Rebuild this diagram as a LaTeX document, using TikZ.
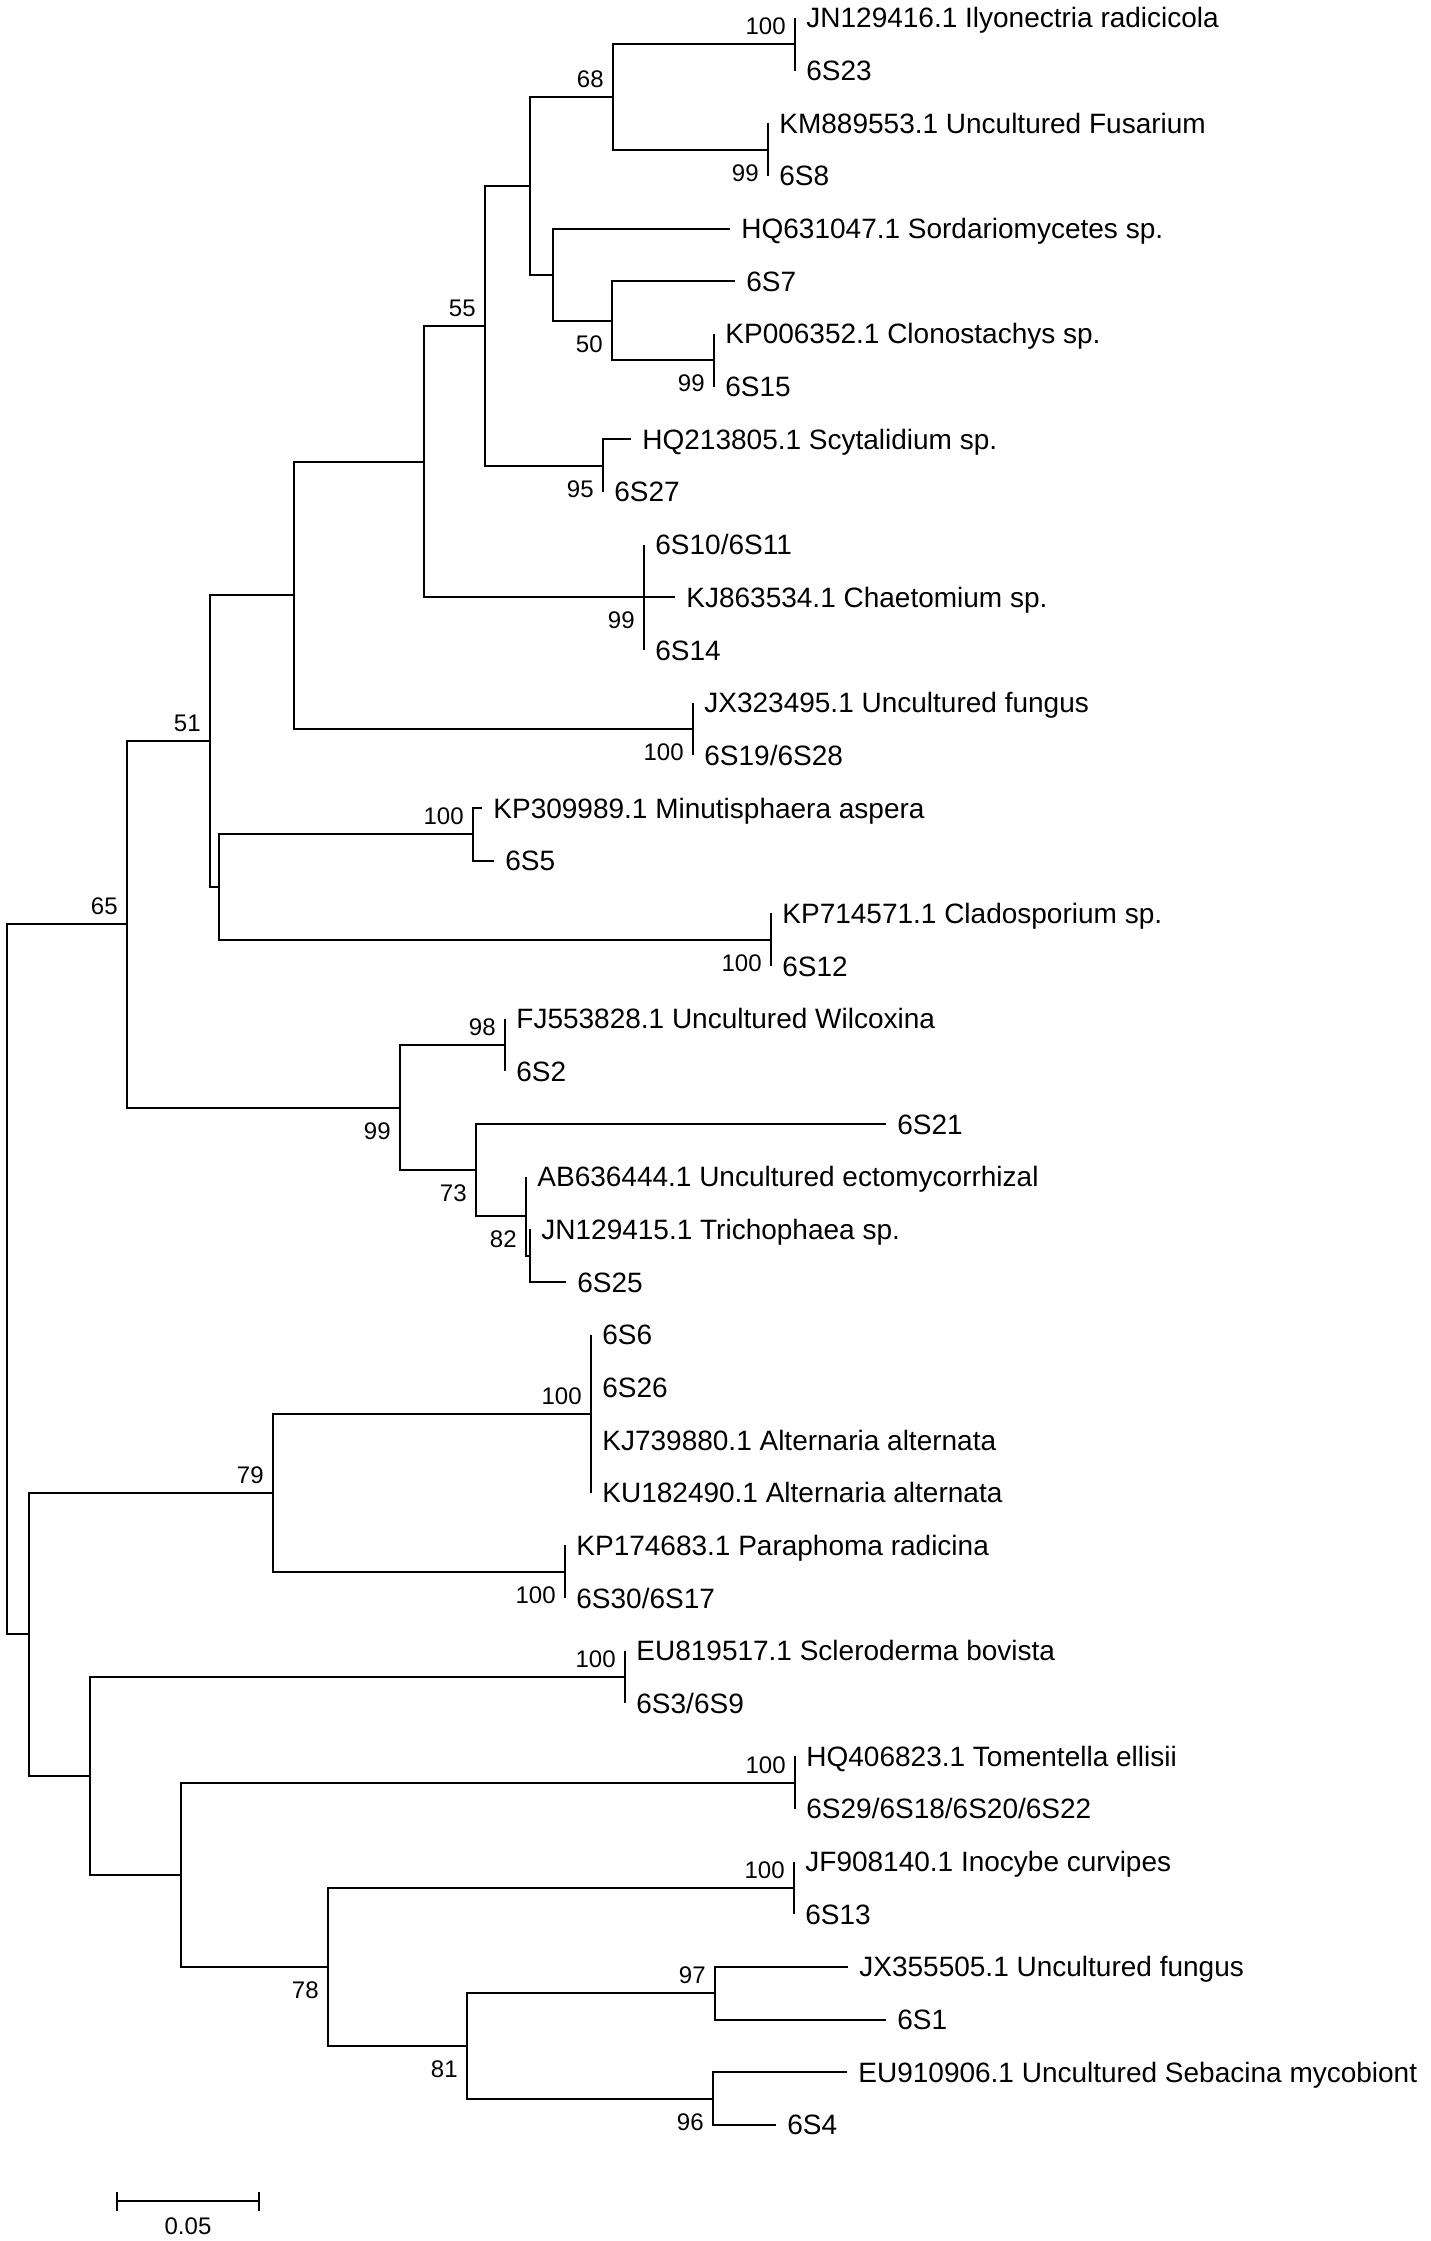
\documentclass[tikz,border=0pt]{standalone}
\usepackage{fontspec}
\setmainfont{Liberation Sans}
\begin{document}
\begin{tikzpicture}[x=0.5pt,y=-0.5pt,
  br/.style={line width=1pt},
  leaf/.style={anchor=base west,inner sep=0pt,xshift=5.5pt,yshift=-5pt,font=\fontsize{14pt}{16pt}\selectfont},
  bsa/.style={anchor=base east,inner sep=0pt,xshift=-4.5pt,yshift=4.75pt,font=\fontsize{12pt}{14pt}\selectfont},
  bsb/.style={anchor=base east,inner sep=0pt,xshift=-4.5pt,yshift=-15.75pt,font=\fontsize{12pt}{14pt}\selectfont}]
\useasboundingbox (0,0) rectangle (1430,2241);
% internal nodes
\coordinate (R) at (7,1279.4);
\coordinate (A) at (127,924.4);
\coordinate (C) at (210,741.2);
\coordinate (D) at (400,1107.6);
\coordinate (E) at (294,595.3);
\coordinate (F) at (219,887.1);
\coordinate (G) at (424,461.6);
\coordinate (NJX) at (693,729.1);
\coordinate (H) at (485,325.8);
\coordinate (NCh) at (644,597.4);
\coordinate (I) at (530,185.9);
\coordinate (N95) at (603,465.7);
\coordinate (N68) at (613,97.0);
\coordinate (J) at (553,274.8);
\coordinate (N100a) at (795,44.4);
\coordinate (N99a) at (768,149.7);
\coordinate (N50) at (612,320.9);
\coordinate (N99b) at (714,360.4);
\coordinate (N100m) at (473,834.4);
\coordinate (N100c) at (771,939.8);
\coordinate (N98) at (505,1045.1);
\coordinate (N73) at (476,1170.2);
\coordinate (N82) at (526,1216.2);
\coordinate (K) at (530,1255.8);
\coordinate (B) at (29,1634.4);
\coordinate (N79) at (273,1492.8);
\coordinate (L) at (90,1775.9);
\coordinate (NAlt) at (591,1413.8);
\coordinate (NP) at (565,1571.8);
\coordinate (NS) at (625,1677.1);
\coordinate (M) at (181,1874.7);
\coordinate (NT) at (795,1782.5);
\coordinate (N78) at (328,1966.9);
\coordinate (NI) at (794,1887.8);
\coordinate (N81) at (467,2045.9);
\coordinate (N97) at (715,1993.2);
\coordinate (N96) at (713,2098.5);
% leaf tips
\coordinate (l0) at (795,18.0);
\coordinate (l1) at (795,70.7);
\coordinate (l2) at (768,123.3);
\coordinate (l3) at (768,176.0);
\coordinate (l4) at (730,228.7);
\coordinate (l5) at (735,281.4);
\coordinate (l6) at (714,334.0);
\coordinate (l7) at (714,386.7);
\coordinate (l8) at (631,439.4);
\coordinate (l9) at (603,492.0);
\coordinate (l10) at (644,544.7);
\coordinate (l11) at (675,597.4);
\coordinate (l12) at (644,650.0);
\coordinate (l13) at (693,702.7);
\coordinate (l14) at (693,755.4);
\coordinate (l15) at (482,808.1);
\coordinate (l16) at (494,860.7);
\coordinate (l17) at (771,913.4);
\coordinate (l18) at (771,966.1);
\coordinate (l19) at (505,1018.7);
\coordinate (l20) at (505,1071.4);
\coordinate (l21) at (886,1124.1);
\coordinate (l22) at (526,1176.7);
\coordinate (l23) at (530,1229.4);
\coordinate (l24) at (566,1282.1);
\coordinate (l25) at (591,1334.8);
\coordinate (l26) at (591,1387.4);
\coordinate (l27) at (591,1440.1);
\coordinate (l28) at (591,1492.8);
\coordinate (l29) at (565,1545.4);
\coordinate (l30) at (565,1598.1);
\coordinate (l31) at (625,1650.8);
\coordinate (l32) at (625,1703.4);
\coordinate (l33) at (795,1756.1);
\coordinate (l34) at (795,1808.8);
\coordinate (l35) at (794,1861.5);
\coordinate (l36) at (794,1914.1);
\coordinate (l37) at (848,1966.8);
\coordinate (l38) at (886,2019.5);
\coordinate (l39) at (847,2072.1);
\coordinate (l40) at (776,2124.8);
% branches
\draw[br] (R) |- (A); \draw[br] (R) |- (B);
\draw[br] (A) |- (C); \draw[br] (A) |- (D);
\draw[br] (C) |- (E); \draw[br] (C) |- (F);
\draw[br] (E) |- (G); \draw[br] (E) |- (NJX);
\draw[br] (G) |- (H); \draw[br] (G) |- (NCh);
\draw[br] (H) |- (I); \draw[br] (H) |- (N95);
\draw[br] (I) |- (N68); \draw[br] (I) |- (J);
\draw[br] (N68) |- (N100a); \draw[br] (N68) |- (N99a);
\draw[br] (N100a) |- (l0); \draw[br] (N100a) |- (l1);
\draw[br] (N99a) |- (l2); \draw[br] (N99a) |- (l3);
\draw[br] (J) |- (l4); \draw[br] (J) |- (N50);
\draw[br] (N50) |- (l5); \draw[br] (N50) |- (N99b);
\draw[br] (N99b) |- (l6); \draw[br] (N99b) |- (l7);
\draw[br] (N95) |- (l8); \draw[br] (N95) |- (l9);
\draw[br] (NCh) |- (l10); \draw[br] (NCh) |- (l11); \draw[br] (NCh) |- (l12);
\draw[br] (NJX) |- (l13); \draw[br] (NJX) |- (l14);
\draw[br] (F) |- (N100m); \draw[br] (F) |- (N100c);
\draw[br] (N100m) |- (l15); \draw[br] (N100m) |- (l16);
\draw[br] (N100c) |- (l17); \draw[br] (N100c) |- (l18);
\draw[br] (D) |- (N98); \draw[br] (D) |- (N73);
\draw[br] (N98) |- (l19); \draw[br] (N98) |- (l20);
\draw[br] (N73) |- (l21); \draw[br] (N73) |- (N82);
\draw[br] (N82) |- (l22); \draw[br] (N82) |- (K);
\draw[br] (K) |- (l23); \draw[br] (K) |- (l24);
\draw[br] (B) |- (N79); \draw[br] (B) |- (L);
\draw[br] (N79) |- (NAlt); \draw[br] (N79) |- (NP);
\draw[br] (NAlt) |- (l25); \draw[br] (NAlt) |- (l28);
\draw[br] (NP) |- (l29); \draw[br] (NP) |- (l30);
\draw[br] (L) |- (NS); \draw[br] (L) |- (M);
\draw[br] (NS) |- (l31); \draw[br] (NS) |- (l32);
\draw[br] (M) |- (NT); \draw[br] (M) |- (N78);
\draw[br] (NT) |- (l33); \draw[br] (NT) |- (l34);
\draw[br] (N78) |- (NI); \draw[br] (N78) |- (N81);
\draw[br] (NI) |- (l35); \draw[br] (NI) |- (l36);
\draw[br] (N81) |- (N97); \draw[br] (N81) |- (N96);
\draw[br] (N97) |- (l37); \draw[br] (N97) |- (l38);
\draw[br] (N96) |- (l39); \draw[br] (N96) |- (l40);
% leaf labels
\node[leaf] (t0) at (l0) {JN129416.1 Ilyonectria radicicola};
\node[leaf] (t1) at (l1) {6S23};
\node[leaf] (t2) at (l2) {KM889553.1 Uncultured Fusarium};
\node[leaf] (t3) at (l3) {6S8};
\node[leaf] (t4) at (l4) {HQ631047.1 Sordariomycetes sp.};
\node[leaf] (t5) at (l5) {6S7};
\node[leaf] (t6) at (l6) {KP006352.1 Clonostachys sp.};
\node[leaf] (t7) at (l7) {6S15};
\node[leaf] (t8) at (l8) {HQ213805.1 Scytalidium sp.};
\node[leaf] (t9) at (l9) {6S27};
\node[leaf] (t10) at (l10) {6S10/6S11};
\node[leaf] (t11) at (l11) {KJ863534.1 Chaetomium sp.};
\node[leaf] (t12) at (l12) {6S14};
\node[leaf] (t13) at (l13) {JX323495.1 Uncultured fungus};
\node[leaf] (t14) at (l14) {6S19/6S28};
\node[leaf] (t15) at (l15) {KP309989.1 Minutisphaera aspera};
\node[leaf] (t16) at (l16) {6S5};
\node[leaf] (t17) at (l17) {KP714571.1 Cladosporium sp.};
\node[leaf] (t18) at (l18) {6S12};
\node[leaf] (t19) at (l19) {FJ553828.1 Uncultured Wilcoxina};
\node[leaf] (t20) at (l20) {6S2};
\node[leaf] (t21) at (l21) {6S21};
\node[leaf] (t22) at (l22) {AB636444.1 Uncultured ectomycorrhizal};
\node[leaf] (t23) at (l23) {JN129415.1 Trichophaea sp.};
\node[leaf] (t24) at (l24) {6S25};
\node[leaf] (t25) at (l25) {6S6};
\node[leaf] (t26) at (l26) {6S26};
\node[leaf] (t27) at (l27) {KJ739880.1 Alternaria alternata};
\node[leaf] (t28) at (l28) {KU182490.1 Alternaria alternata};
\node[leaf] (t29) at (l29) {KP174683.1 Paraphoma radicina};
\node[leaf] (t30) at (l30) {6S30/6S17};
\node[leaf] (t31) at (l31) {EU819517.1 Scleroderma bovista};
\node[leaf] (t32) at (l32) {6S3/6S9};
\node[leaf] (t33) at (l33) {HQ406823.1 Tomentella ellisii};
\node[leaf] (t34) at (l34) {6S29/6S18/6S20/6S22};
\node[leaf] (t35) at (l35) {JF908140.1 Inocybe curvipes};
\node[leaf] (t36) at (l36) {6S13};
\node[leaf] (t37) at (l37) {JX355505.1 Uncultured fungus};
\node[leaf] (t38) at (l38) {6S1};
\node[leaf] (t39) at (l39) {EU910906.1 Uncultured Sebacina mycobiont};
\node[leaf] (t40) at (l40) {6S4};
% bootstrap values
\node[bsa] (b1) at (N100a) {100};
\node[bsa] (b2) at (N68) {68};
\node[bsb] (b3) at (N99a) {99};
\node[bsa] (b4) at (H) {55};
\node[bsb] (b5) at (N50) {50};
\node[bsb] (b6) at (N99b) {99};
\node[bsb] (b7) at (N95) {95};
\node[bsb] (b8) at (NCh) {99};
\node[bsb] (b9) at (NJX) {100};
\node[bsa] (b10) at (C) {51};
\node[bsa] (b11) at (N100m) {100};
\node[bsa] (b12) at (A) {65};
\node[bsb] (b13) at (N100c) {100};
\node[bsa] (b14) at (N98) {98};
\node[bsb] (b15) at (D) {99};
\node[bsb] (b16) at (N73) {73};
\node[bsb] (b17) at (N82) {82};
\node[bsa] (b18) at (NAlt) {100};
\node[bsa] (b19) at (N79) {79};
\node[bsb] (b20) at (NP) {100};
\node[bsa] (b21) at (NS) {100};
\node[bsa] (b22) at (NT) {100};
\node[bsa] (b23) at (NI) {100};
\node[bsb] (b24) at (N78) {78};
\node[bsb] (b25) at (N81) {81};
\node[bsa] (b26) at (N97) {97};
\node[bsb] (b27) at (N96) {96};
% scale bar
\coordinate (s1) at (117,2201);
\coordinate (s2) at (259,2201);
\draw[br] (s1) -- (s2);
\draw[br] ([yshift=4.75pt]s1) -- ([yshift=-4.75pt]s1);
\draw[br] ([yshift=4.75pt]s2) -- ([yshift=-4.75pt]s2);
\node[inner sep=0pt,anchor=base,font=\fontsize{12pt}{14pt}\selectfont] (sl) at (188,2234.5) {0.05};
\end{tikzpicture}
\end{document}
